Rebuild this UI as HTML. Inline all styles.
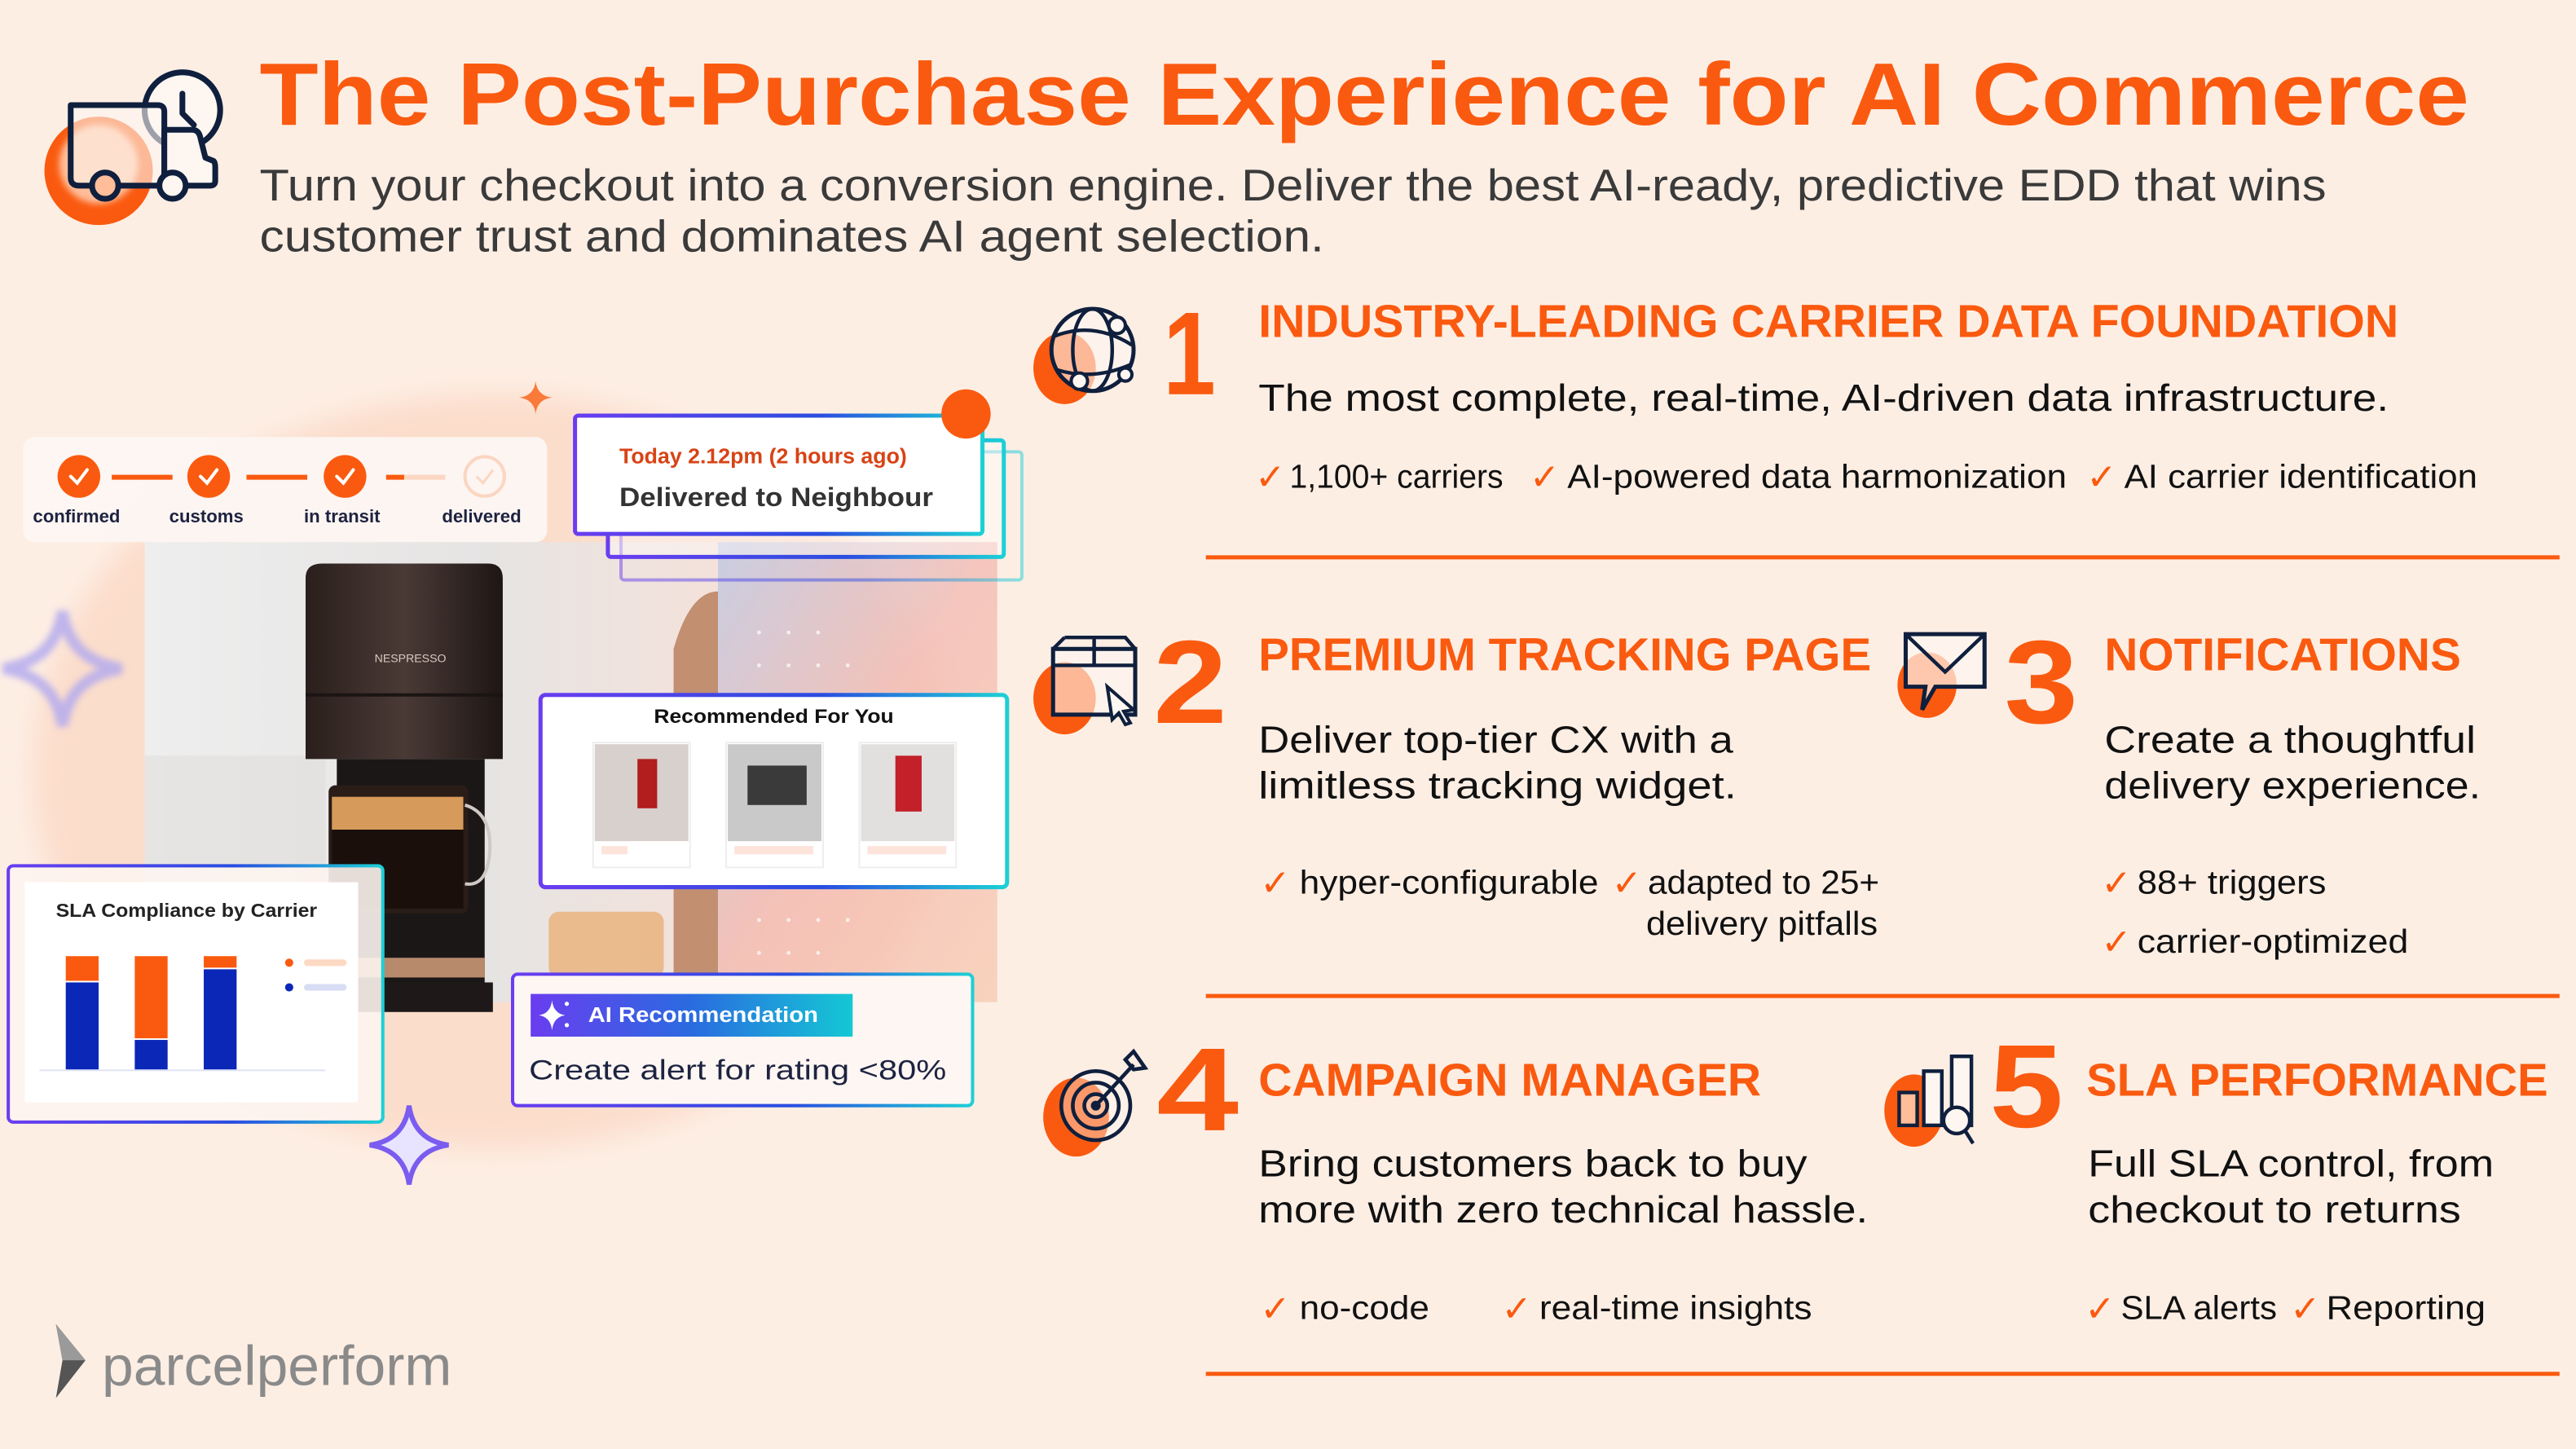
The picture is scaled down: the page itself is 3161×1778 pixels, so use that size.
<!DOCTYPE html>
<html><head><meta charset="utf-8"><style>
html,body{margin:0;padding:0;background:#fdeee4;}
svg{display:block;}
text{font-family:"Liberation Sans",sans-serif;}
</style></head><body>
<svg width="3161" height="1778" viewBox="0 0 1568 882" xmlns="http://www.w3.org/2000/svg">
<defs>
<linearGradient id="bd" x1="0" y1="0" x2="1" y2="0"><stop offset="0" stop-color="#6a3df0"/><stop offset="0.6" stop-color="#2a4de0"/><stop offset="1" stop-color="#1cd0d6"/></linearGradient>
<linearGradient id="pill" x1="0" y1="0" x2="1" y2="0"><stop offset="0" stop-color="#6a3df0"/><stop offset="0.5" stop-color="#2a6be0"/><stop offset="1" stop-color="#14c8d4"/></linearGradient>
<linearGradient id="photo" x1="0" y1="0" x2="1" y2="0"><stop offset="0" stop-color="#eeeeee"/><stop offset="0.6" stop-color="#e6e4e3"/><stop offset="1" stop-color="#f4e2da"/></linearGradient>
<linearGradient id="rightp" x1="0" y1="0" x2="1" y2="1"><stop offset="0" stop-color="#b8c8ea"/><stop offset="0.5" stop-color="#f2b8b0"/><stop offset="1" stop-color="#f7c9b0"/></linearGradient>
<linearGradient id="mach" x1="0" y1="0" x2="1" y2="0"><stop offset="0" stop-color="#2a1f1c"/><stop offset="0.5" stop-color="#4a3a36"/><stop offset="1" stop-color="#1e1614"/></linearGradient>
<filter id="blur"><feGaussianBlur stdDeviation="6"/></filter>
<filter id="blur2"><feGaussianBlur stdDeviation="2"/></filter>
<filter id="sh"><feGaussianBlur stdDeviation="8"/></filter>
</defs>
<rect width="1568" height="882" fill="#fdeee4"/>

<!-- truck icon -->
<circle cx="60" cy="104" r="33" fill="#fa5a0f"/>
<circle cx="60" cy="100" r="24" fill="#ffbd9a" filter="url(#blur2)"/>
<circle cx="224" cy="86" r="1" fill="none"/>
<g fill="none" stroke="#0f1f3d" stroke-width="3.5" stroke-linejoin="round" stroke-linecap="round">
<circle cx="111" cy="67" r="23" fill="#fdf6f1"/>
<path d="M111 57 V69 L118 76"/>
<path d="M87 88 H203" stroke="none"/>
<rect x="84" y="88" width="117" height="0" stroke="none"/>
<path d="M43 64 H96 Q100 64 100 68 V113 H48 Q43 113 43 108 Z" fill="#fdf6f1" fill-opacity="0.6"/>
<path d="M100 79 H117 Q121 79 122 84 L125 96 L130 98 Q131 99 131 102 V110 Q131 113 128 113 H100 Z" fill="#fdf6f1"/>
<circle cx="64" cy="113" r="8" fill="#ffbd9a"/>
<circle cx="105" cy="113" r="8" fill="#fdf6f1"/>
</g>

<text x="158" y="76" font-size="54" font-weight="bold" fill="#fa5a0f" textLength="1345" lengthAdjust="spacingAndGlyphs">The Post-Purchase Experience for AI Commerce</text>
<text x="158" y="122" font-size="27" fill="#3a3a3a" textLength="1258" lengthAdjust="spacingAndGlyphs">Turn your checkout into a conversion engine. Deliver the best AI-ready, predictive EDD that wins</text>
<text x="158" y="153" font-size="27" fill="#3a3a3a" textLength="648" lengthAdjust="spacingAndGlyphs">customer trust and dominates AI agent selection.</text>

<!-- LEFT COLLAGE -->
<ellipse cx="300" cy="470" rx="280" ry="230" fill="#fbd2bc" filter="url(#sh)" opacity="0.6"/>
<rect x="88" y="330" width="350" height="280" fill="url(#photo)"/>
<rect x="437" y="330" width="170" height="280" fill="url(#rightp)" opacity="0.75"/>
<g fill="#fff" opacity="0.7">
<circle cx="462" cy="385" r="1.2"/><circle cx="480" cy="385" r="1.2"/><circle cx="498" cy="385" r="1.2"/><circle cx="462" cy="405" r="1.2"/><circle cx="480" cy="405" r="1.2"/><circle cx="498" cy="405" r="1.2"/><circle cx="516" cy="405" r="1.2"/>
<circle cx="462" cy="560" r="1.2"/><circle cx="480" cy="560" r="1.2"/><circle cx="498" cy="560" r="1.2"/><circle cx="516" cy="560" r="1.2"/><circle cx="462" cy="580" r="1.2"/><circle cx="480" cy="580" r="1.2"/><circle cx="498" cy="580" r="1.2"/>
</g>
<path d="M410 395 Q420 360 437 360 V600 H410 Z" fill="#b57a55" opacity="0.8"/>
<rect x="88" y="460" width="110" height="150" fill="#dedcda" opacity="0.5"/>
<!-- coffee machine -->
<path d="M186 352 Q186 343 196 343 H297 Q306 343 306 352 V462 H186 Z" fill="url(#mach)"/>
<rect x="186" y="422" width="120" height="2" fill="#1a1412"/>
<text x="228" y="403" font-size="7" fill="#d8c8c0">NESPRESSO</text>
<path d="M205 462 H295 V600 H205 Z" fill="#1b1716"/>
<rect x="200" y="478" width="85" height="78" rx="4" fill="#2a1d18"/>
<rect x="202" y="485" width="80" height="20" fill="#d69a5a"/>
<rect x="202" y="505" width="80" height="48" fill="#1a0f0b"/>
<path d="M283 490 Q300 495 298 520 Q296 540 283 538" fill="none" stroke="#cfc8c4" stroke-width="2"/>
<rect x="215" y="583" width="80" height="12" fill="#b88a6c"/>
<rect x="195" y="598" width="105" height="18" fill="#1e1918"/>
<rect x="334" y="555" width="70" height="40" rx="6" fill="#e8b078" opacity="0.8"/>

<!-- sparkles -->
<path d="M326 232 Q327 241 336 242 Q327 243 326 252 Q325 243 316 242 Q325 241 326 232Z" fill="#fa7a3a"/>
<path d="M38 372 Q42 402 74 407 Q42 412 38 442 Q34 412 2 407 Q34 402 38 372Z" fill="none" stroke="#b0a8f0" stroke-width="7" filter="url(#blur2)" opacity="0.8"/>
<path d="M249 673 Q252 694 273 697 Q252 700 249 721 Q246 700 225 697 Q246 694 249 673Z" fill="#e8e4ff" stroke="#7a5cf0" stroke-width="3"/>

<!-- tracker card -->
<rect x="14" y="266" width="319" height="64" rx="7" fill="#fdf6f2" opacity="0.95"/>
<g fill="#fa5a0f">
<circle cx="48" cy="290" r="13"/><circle cx="127" cy="290" r="13"/><circle cx="210" cy="290" r="13"/>
<rect x="68" y="289" width="37" height="3"/><rect x="150" y="289" width="37" height="3"/><rect x="235" y="289" width="11" height="3"/>
</g>
<rect x="246" y="289" width="25" height="3" fill="#fbd6c2"/>
<circle cx="295" cy="290" r="12" fill="none" stroke="#fbd6c2" stroke-width="2"/>
<g fill="none" stroke="#fff" stroke-width="2" stroke-linecap="round"><path d="M43 290 l4 4 l6 -8"/><path d="M122 290 l4 4 l6 -8"/><path d="M205 290 l4 4 l6 -8"/></g>
<path d="M290 290 l4 4 l6 -8" fill="none" stroke="#fbd6c2" stroke-width="1.5"/>
<g font-size="11" font-weight="bold" fill="#1d2340">
<text x="20" y="318">confirmed</text><text x="103" y="318">customs</text><text x="185" y="318">in transit</text><text x="269" y="318">delivered</text></g>

<!-- delivered card -->
<rect x="378" y="275" width="244" height="78" rx="2" fill="none" stroke="url(#bd)" stroke-width="2" opacity="0.5"/>
<rect x="370" y="268" width="241" height="71" rx="2" fill="#fff" fill-opacity="0.4" stroke="url(#bd)" stroke-width="2.5"/>
<rect x="350" y="253" width="248" height="72" rx="2" fill="#fff" stroke="url(#bd)" stroke-width="2.5"/>
<circle cx="588" cy="252" r="15" fill="#fa5a0f"/>
<text x="377" y="282" font-size="13" font-weight="bold" fill="#d84315" textLength="175" lengthAdjust="spacingAndGlyphs">Today 2.12pm (2 hours ago)</text>
<text x="377" y="308" font-size="16" font-weight="bold" fill="#333" textLength="191" lengthAdjust="spacingAndGlyphs">Delivered to Neighbour</text>

<!-- recommended card -->
<rect x="329" y="423" width="284" height="117" rx="3" fill="#fff" stroke="url(#bd)" stroke-width="2.5"/>
<text x="471" y="440" font-size="12" font-weight="bold" fill="#111" text-anchor="middle" textLength="146" lengthAdjust="spacingAndGlyphs">Recommended For You</text>
<g>
<rect x="361" y="452" width="59" height="76" fill="#fff" stroke="#eee"/><rect x="362" y="453" width="57" height="59" fill="#d8d0cc"/><rect x="388" y="462" width="12" height="30" fill="#b01e1e"/><rect x="366" y="515" width="16" height="5" fill="#fde4da"/>
<rect x="442" y="452" width="59" height="76" fill="#fff" stroke="#eee"/><rect x="443" y="453" width="57" height="59" fill="#c9c9c9"/><rect x="455" y="466" width="36" height="24" fill="#3a3a3a"/><rect x="447" y="515" width="48" height="5" fill="#fde4da"/>
<rect x="523" y="452" width="59" height="76" fill="#fff" stroke="#eee"/><rect x="524" y="453" width="57" height="59" fill="#e2e0de"/><rect x="545" y="460" width="16" height="34" fill="#c4202a"/><rect x="528" y="515" width="48" height="5" fill="#fde4da"/>
</g>

<!-- SLA card -->
<rect x="5" y="527" width="228" height="156" rx="3" fill="#fdf4f0" fill-opacity="0.9" stroke="url(#bd)" stroke-width="2"/>
<rect x="15" y="537" width="203" height="134" fill="#fff"/>
<text x="34" y="558" font-size="11.5" font-weight="bold" fill="#222" textLength="159" lengthAdjust="spacingAndGlyphs">SLA Compliance by Carrier</text>
<rect x="40" y="582" width="20" height="15" fill="#fa5a0f"/><rect x="40" y="598" width="20" height="53" fill="#0a27b8"/>
<rect x="82" y="582" width="20" height="50" fill="#fa5a0f"/><rect x="82" y="633" width="20" height="18" fill="#0a27b8"/>
<rect x="124" y="582" width="20" height="7" fill="#fa5a0f"/><rect x="124" y="590" width="20" height="61" fill="#0a27b8"/>
<rect x="24" y="651" width="174" height="1" fill="#dfe3f5"/>
<circle cx="176" cy="586" r="2.5" fill="#fa5a0f"/><rect x="185" y="584" width="26" height="4" rx="2" fill="#fdd9c4"/>
<circle cx="176" cy="601" r="2.5" fill="#0a27b8"/><rect x="185" y="599" width="26" height="4" rx="2" fill="#d8ddf5"/>

<!-- AI card -->
<rect x="312" y="593" width="280" height="80" rx="3" fill="#fdf6f3" stroke="url(#bd)" stroke-width="2"/>
<rect x="323" y="605" width="196" height="26" fill="url(#pill)"/>
<path d="M336 609 Q337 617 344 618 Q337 619 336 627 Q335 619 328 618 Q335 617 336 609Z" fill="#fff"/>
<circle cx="345" cy="611" r="1.3" fill="#fff"/><circle cx="345" cy="624" r="1.3" fill="#fff"/>
<text x="358" y="622" font-size="13" font-weight="bold" fill="#fff" textLength="140" lengthAdjust="spacingAndGlyphs">AI Recommendation</text>
<text x="322" y="657" font-size="17" fill="#1d2340" textLength="254" lengthAdjust="spacingAndGlyphs">Create alert for rating &lt;80%</text>

<!-- logo -->
<path d="M34 806 L52 828 L34 851 L38 828 Z" fill="#555"/>
<path d="M34 806 L52 828 L38 828 Z" fill="#9a9a9a"/>
<text x="62" y="843" font-size="34" fill="#8a8a8a" textLength="213" lengthAdjust="spacingAndGlyphs">parcelperform</text>

<!-- RIGHT: sections -->
<g font-weight="bold" fill="#fa5a0f">
<text x="708" y="240" font-size="72" textLength="32" lengthAdjust="spacingAndGlyphs">1</text>
<text x="702" y="440" font-size="72" textLength="45" lengthAdjust="spacingAndGlyphs">2</text>
<text x="1220" y="440" font-size="72" textLength="45" lengthAdjust="spacingAndGlyphs">3</text>
<text x="704" y="688" font-size="72" textLength="50" lengthAdjust="spacingAndGlyphs">4</text>
<text x="1211" y="686" font-size="72" textLength="45" lengthAdjust="spacingAndGlyphs">5</text>
<g font-size="28">
<text x="766" y="205" textLength="694" lengthAdjust="spacingAndGlyphs">INDUSTRY-LEADING CARRIER DATA FOUNDATION</text>
<text x="766" y="408" textLength="373" lengthAdjust="spacingAndGlyphs">PREMIUM TRACKING PAGE</text>
<text x="1281" y="408" textLength="217" lengthAdjust="spacingAndGlyphs">NOTIFICATIONS</text>
<text x="766" y="667" textLength="306" lengthAdjust="spacingAndGlyphs">CAMPAIGN MANAGER</text>
<text x="1270" y="667" textLength="281" lengthAdjust="spacingAndGlyphs">SLA PERFORMANCE</text>
</g></g>

<g font-size="23" fill="#111">
<text x="766" y="250" textLength="688" lengthAdjust="spacingAndGlyphs">The most complete, real-time, AI-driven data infrastructure.</text>
<text x="766" y="458" textLength="289" lengthAdjust="spacingAndGlyphs">Deliver top-tier CX with a</text>
<text x="766" y="486" textLength="291" lengthAdjust="spacingAndGlyphs">limitless tracking widget.</text>
<text x="1281" y="458" textLength="226" lengthAdjust="spacingAndGlyphs">Create a thoughtful</text>
<text x="1281" y="486" textLength="229" lengthAdjust="spacingAndGlyphs">delivery experience.</text>
<text x="766" y="716" textLength="334" lengthAdjust="spacingAndGlyphs">Bring customers back to buy</text>
<text x="766" y="744" textLength="371" lengthAdjust="spacingAndGlyphs">more with zero technical hassle.</text>
<text x="1271" y="716" textLength="247" lengthAdjust="spacingAndGlyphs">Full SLA control, from</text>
<text x="1271" y="744" textLength="227" lengthAdjust="spacingAndGlyphs">checkout to returns</text>
</g>

<g font-size="20" fill="#111">
<text x="785" y="297" textLength="130" lengthAdjust="spacingAndGlyphs">1,100+ carriers</text>
<text x="954" y="297" textLength="304" lengthAdjust="spacingAndGlyphs">AI-powered data harmonization</text>
<text x="1293" y="297" textLength="215" lengthAdjust="spacingAndGlyphs">AI carrier identification</text>
<text x="791" y="544" textLength="182" lengthAdjust="spacingAndGlyphs">hyper-configurable</text>
<text x="1003" y="544" textLength="141" lengthAdjust="spacingAndGlyphs">adapted to 25+</text>
<text x="1002" y="569" textLength="141" lengthAdjust="spacingAndGlyphs">delivery pitfalls</text>
<text x="1301" y="544" textLength="115" lengthAdjust="spacingAndGlyphs">88+ triggers</text>
<text x="1301" y="580" textLength="165" lengthAdjust="spacingAndGlyphs">carrier-optimized</text>
<text x="791" y="803" textLength="79" lengthAdjust="spacingAndGlyphs">no-code</text>
<text x="937" y="803" textLength="166" lengthAdjust="spacingAndGlyphs">real-time insights</text>
<text x="1291" y="803" textLength="95" lengthAdjust="spacingAndGlyphs">SLA alerts</text>
<text x="1416" y="803" textLength="97" lengthAdjust="spacingAndGlyphs">Reporting</text>
</g>
<g font-size="22" fill="#fa5a0f">
<text x="764" y="298">✓</text><text x="931" y="298">✓</text><text x="1270" y="298">✓</text>
<text x="767" y="545">✓</text><text x="981" y="545">✓</text>
<text x="1279" y="545">✓</text><text x="1279" y="581">✓</text>
<text x="767" y="804">✓</text><text x="914" y="804">✓</text>
<text x="1269" y="804">✓</text><text x="1394" y="804">✓</text>
</g>

<g fill="#fa5a0f">
<rect x="734" y="338" width="824" height="2.5"/>
<rect x="734" y="605" width="824" height="2.5"/>
<rect x="734" y="835" width="824" height="2.5"/>
</g>

<!-- section icons -->
<g>
<ellipse cx="648" cy="224" rx="19" ry="22" fill="#fa5a0f"/>
<circle cx="665" cy="213" r="25" fill="#fdf6f1" fill-opacity="0.6" stroke="#0f1f3d" stroke-width="2.5"/>
<g fill="none" stroke="#0f1f3d" stroke-width="2.2"><ellipse cx="665" cy="213" rx="12" ry="25"/><path d="M641 205 Q665 195 689 210"/><path d="M643 225 Q665 232 688 222"/></g>
<g fill="#fdf6f1" stroke="#0f1f3d" stroke-width="2"><circle cx="680" cy="198" r="5"/><circle cx="657" cy="232" r="5"/><circle cx="685" cy="228" r="4"/></g>

<ellipse cx="648" cy="425" rx="19" ry="22" fill="#fa5a0f"/>
<rect x="641" y="395" width="50" height="40" fill="#fdf6f1" fill-opacity="0.6" stroke="#0f1f3d" stroke-width="2.5"/>
<path d="M641 405 H691 M666 388 V405 M648 388 H685 L691 395 M648 388 L641 395" fill="none" stroke="#0f1f3d" stroke-width="2.2"/>
<path d="M674 418 L690 432 L684 433 L688 440 L685 441 L681 434 L677 438 Z" fill="#fdf6f1" stroke="#0f1f3d" stroke-width="2"/>

<ellipse cx="1173" cy="417" rx="18" ry="20" fill="#fa5a0f"/>
<path d="M1160 386 H1208 V418 H1178 L1170 432 L1172 418 H1160 Z" fill="#fdf6f1" fill-opacity="0.7" stroke="#0f1f3d" stroke-width="2.5"/>
<path d="M1161 387 L1184 409 L1207 387" fill="none" stroke="#0f1f3d" stroke-width="2.2"/>

<ellipse cx="655" cy="680" rx="20" ry="24" fill="#fa5a0f"/>
<g fill="none" stroke="#0f1f3d" stroke-width="2.3"><circle cx="667" cy="673" r="21" fill="#fdf6f1" fill-opacity="0.4"/><circle cx="667" cy="673" r="14"/><circle cx="667" cy="673" r="7" fill="#ffbd9a"/>
<path d="M667 673 L690 648 M685 645 L690 640 L697 650 L690 651 Z"/></g>
<circle cx="667" cy="673" r="3" fill="#0f1f3d"/>

<ellipse cx="1165" cy="676" rx="18" ry="22" fill="#fa5a0f"/>
<g fill="#fdf6f1" stroke="#0f1f3d" stroke-width="2.2">
<rect x="1156" y="665" width="11" height="20" fill="#ffbd9a"/><rect x="1171" y="652" width="11" height="33"/><rect x="1188" y="643" width="12" height="42"/>
<circle cx="1191" cy="682" r="8"/><path d="M1196 688 L1201 696"/></g>
</g>
</svg>
</body></html>
